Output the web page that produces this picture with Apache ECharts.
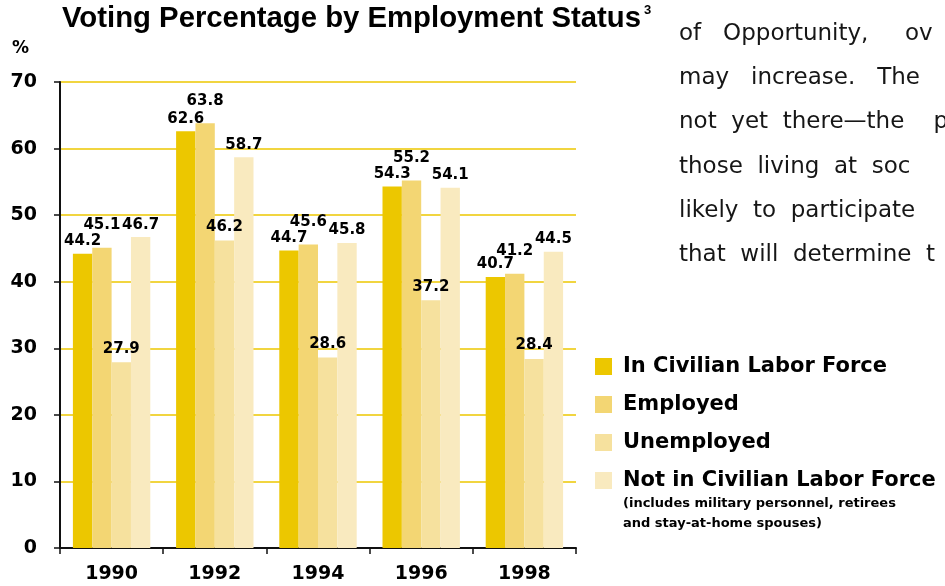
<!DOCTYPE html>
<html>
<head>
<meta charset="utf-8">
<script src="https://cdn.jsdelivr.net/npm/echarts@6/dist/echarts.min.js"></script>
<style>
  html, body { margin: 0; padding: 0; background: #fff; }
  #chart { width: 945px; height: 586px; }
</style>
</head>
<body>
<div id="chart"></div>
<script>
const years = ["1990", "1992", "1994", "1996", "1998"];
const seriesNames = [
  "In Civilian Labor Force",
  "Employed",
  "Unemployed",
  "Not in Civilian Labor Force",
];
const laborForce = [44.2, 62.6, 44.7, 54.3, 40.7];
const employed = [45.1, 63.8, 45.6, 55.2, 41.2];
const unemployed = [27.9, 46.2, 28.6, 37.2, 28.4];
const notInLaborForce = [46.7, 58.7, 45.8, 54.1, 44.5];
const yTicks = [0, 10, 20, 30, 40, 50, 60, 70];

// justified column of body text beside the chart (cut off at the right edge)
const paragraph = [
  "of   Opportunity,     ov",
  "may   increase.   The",
  "not  yet  there\u2014the    p",
  "those  living  at  soc",
  "likely  to  participate",
  "that  will  determine  t",
];

const colors = ["#ecc700", "#f3d673", "#f6e19e", "#f9eabf"];
const labelGaps = [5, 15, 6, 5];

const chart = echarts.init(document.getElementById("chart"));

function makeSeries(name, values, i) {
  return {
    name: name,
    type: "bar",
    data: values,
    barGap: 0,
    barCategoryGap: "25%",
    itemStyle: { color: colors[i] },
    label: {
      show: true,
      position: "top",
      distance: labelGaps[i],
      fontFamily: "DejaVu Sans",
      fontWeight: "bold",
      fontSize: 15,
      color: "#000",
    },
  };
}

const option = {
  backgroundColor: "#fff",
  animation: false,
  title: {
    left: 62,
    top: 4,
    padding: 0,
    text: "{a|Voting Percentage by Employment Status}{b|3}",
    textStyle: {
      rich: {
        a: {
          fontFamily: "Liberation Sans",
          fontWeight: "bold",
          fontSize: 29.3,
          color: "#000",
        },
        b: {
          fontFamily: "Liberation Sans",
          fontWeight: "bold",
          fontSize: 13,
          color: "#000",
          verticalAlign: "top",
          padding: [0, 0, 0, 3],
        },
      },
    },
  },
  legend: {
    orient: "vertical",
    left: 595,
    top: 356,
    padding: 0,
    icon: "rect",
    itemWidth: 17,
    itemHeight: 17,
    itemGap: 17,
    data: seriesNames,
    textStyle: {
      fontFamily: "DejaVu Sans",
      fontWeight: "bold",
      fontSize: 21,
      color: "#000",
      padding: [0, 0, 0, 6],
    },
  },
  grid: {
    left: 60,
    right: 369,
    top: 82,
    bottom: 38,
  },
  xAxis: {
    type: "category",
    data: years,
    axisLine: { lineStyle: { color: "#111", width: 2 } },
    axisTick: { show: true, length: 6, lineStyle: { color: "#111", width: 1.5 } },
    axisLabel: {
      margin: 17,
      fontFamily: "DejaVu Sans",
      fontWeight: "bold",
      fontSize: 19,
      color: "#000",
    },
  },
  yAxis: {
    type: "value",
    min: yTicks[0],
    max: yTicks[yTicks.length - 1],
    interval: 10,
    axisLine: { show: true, lineStyle: { color: "#111", width: 2 } },
    axisTick: { show: true, length: 6, lineStyle: { color: "#111", width: 1.5 } },
    axisLabel: {
      margin: 23,
      fontFamily: "DejaVu Sans",
      fontWeight: "bold",
      fontSize: 19,
      color: "#000",
    },
    splitLine: { lineStyle: { color: "#ecc700", width: 1.5 } },
  },
  graphic: [
    {
      type: "text",
      left: 12,
      top: 40,
      style: {
        text: "%",
        fontFamily: "DejaVu Sans",
        fontWeight: "bold",
        fontSize: 17,
        fill: "#000",
      },
    },
    {
      type: "text",
      left: 623,
      top: 494,
      style: {
        text: "(includes military personnel, retirees\nand stay-at-home spouses)",
        fontFamily: "DejaVu Sans",
        fontWeight: "bold",
        fontSize: 13,
        lineHeight: 20,
        fill: "#000",
      },
    },
    {
      type: "text",
      left: 679,
      top: 12,
      style: {
        text: paragraph.join("\n"),
        fontFamily: "DejaVu Sans",
        fontSize: 23,
        lineHeight: 44.2,
        fill: "#161616",
      },
    },
  ],
  series: [
    makeSeries(seriesNames[0], laborForce, 0),
    makeSeries(seriesNames[1], employed, 1),
    makeSeries(seriesNames[2], unemployed, 2),
    makeSeries(seriesNames[3], notInLaborForce, 3),
  ],
};

chart.setOption(option);
</script>
</body>
</html>
